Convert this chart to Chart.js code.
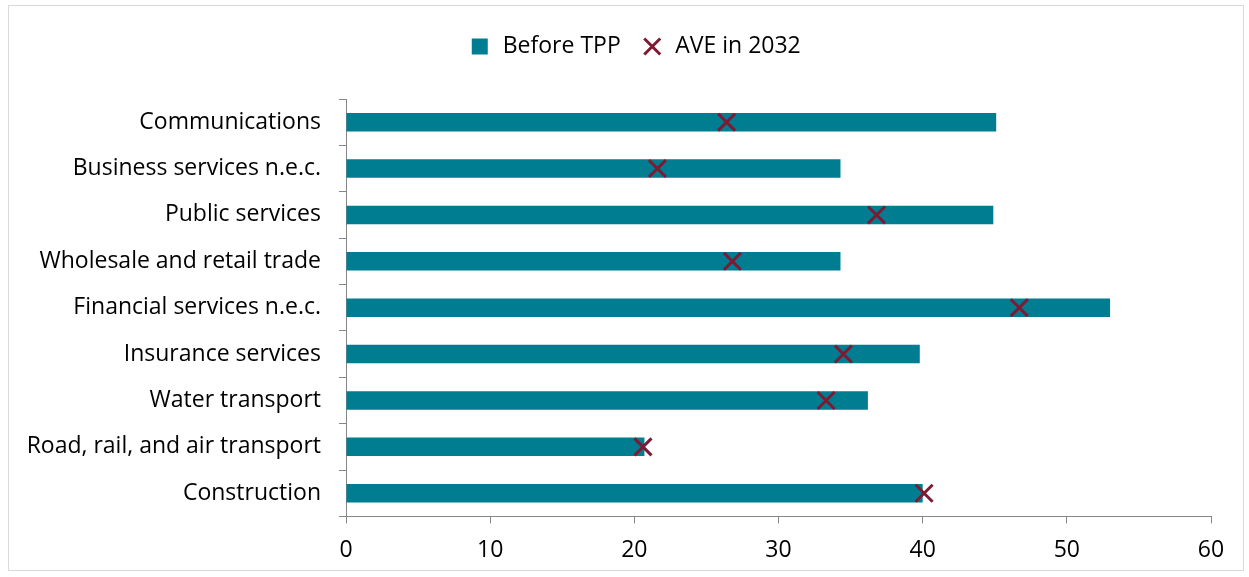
<!DOCTYPE html>
<html>
<head>
<meta charset="utf-8">
<script src="https://cdn.jsdelivr.net/npm/chart.js@4/dist/chart.umd.min.js"></script>
<style>
  html, body { margin: 0; padding: 0; background: #fff; }
  #wrap { position: relative; width: 1249px; height: 577px; }
  #frame { position: absolute; left: 8px; top: 5px; width: 1236px; height: 566px; border: 1px solid #d9d9d9; box-sizing: border-box; }
  canvas { position: absolute; left: 0; top: 0; }
</style>
</head>
<body>
<div id="wrap">
  <div id="frame"></div>
  <canvas id="chart" width="1249" height="577"></canvas>
</div>
<script>
const categories = [
  'Communications',
  'Business services n.e.c.',
  'Public services',
  'Wholesale and retail trade',
  'Financial services n.e.c.',
  'Insurance services',
  'Water transport',
  'Road, rail, and air transport',
  'Construction'
];
const beforeTPP = [45.1, 34.3, 44.9, 34.3, 53.0, 39.8, 36.2, 20.7, 40.0];
const ave2032 = [26.4, 21.6, 36.8, 26.8, 46.7, 34.5, 33.3, 20.6, 40.1];
const xTicks = [0, 10, 20, 30, 40, 50, 60];

const font = { family: '"Open Sans", sans-serif', size: 23 };

// push the plot down below the legend, and center legend on the whole frame
const legendGap = {
  id: 'legendGap',
  beforeInit(chart) {
    const fit = chart.legend.fit;
    chart.legend.fit = function () {
      fit.bind(chart.legend)();
      this.height += 31;
    };
  },
  afterLayout(chart) {
    chart.legend.left += 29;
    chart.legend.right += 29;
  }
};

const ctx = document.getElementById('chart').getContext('2d');
new Chart(ctx, {
  data: {
    labels: categories,
    datasets: [
      {
        type: 'line',
        label: 'AVE in 2032',
        indexAxis: 'y',
        data: ave2032,
        showLine: false,
        pointStyle: 'crossRot',
        pointRadius: 12,
        pointBorderWidth: 3,
        borderWidth: 3,
        borderColor: '#7b1c34',
        backgroundColor: '#7b1c34',
        pointBorderColor: '#7b1c34'
      },
      {
        type: 'bar',
        label: 'Before TPP',
        data: beforeTPP,
        backgroundColor: '#007d91',
        borderColor: '#007d91',
        pointStyle: 'rect',
        barPercentage: 0.4,
        categoryPercentage: 1.0
      }
    ]
  },
  options: {
    indexAxis: 'y',
    responsive: false,
    animation: false,
    layout: { padding: { left: 0, right: 38, top: 15, bottom: 0 } },
    plugins: {
      tooltip: { enabled: false },
      legend: {
        position: 'top',
        reverse: true,
        labels: {
          font: font,
          color: '#000',
          usePointStyle: true,
          boxHeight: 16,
          padding: 20
        }
      }
    },
    scales: {
      x: {
        min: 0,
        max: 60,
        afterBuildTicks: scale => { scale.ticks = xTicks.map(v => ({ value: v })); },
        ticks: { font: font, color: '#000', padding: 13, maxRotation: 0 },
        grid: { drawOnChartArea: false, tickLength: 7, color: '#868686', lineWidth: 1 },
        border: { color: '#868686', width: 1 }
      },
      y: {
        offset: true,
        afterFit: scale => { scale.width = 346; },
        ticks: { font: font, color: '#000', padding: 18 },
        grid: { offset: true, drawOnChartArea: false, tickLength: 7, color: '#868686', lineWidth: 1 },
        border: { color: '#868686', width: 1 }
      }
    }
  },
  plugins: [legendGap]
});
</script>
</body>
</html>
